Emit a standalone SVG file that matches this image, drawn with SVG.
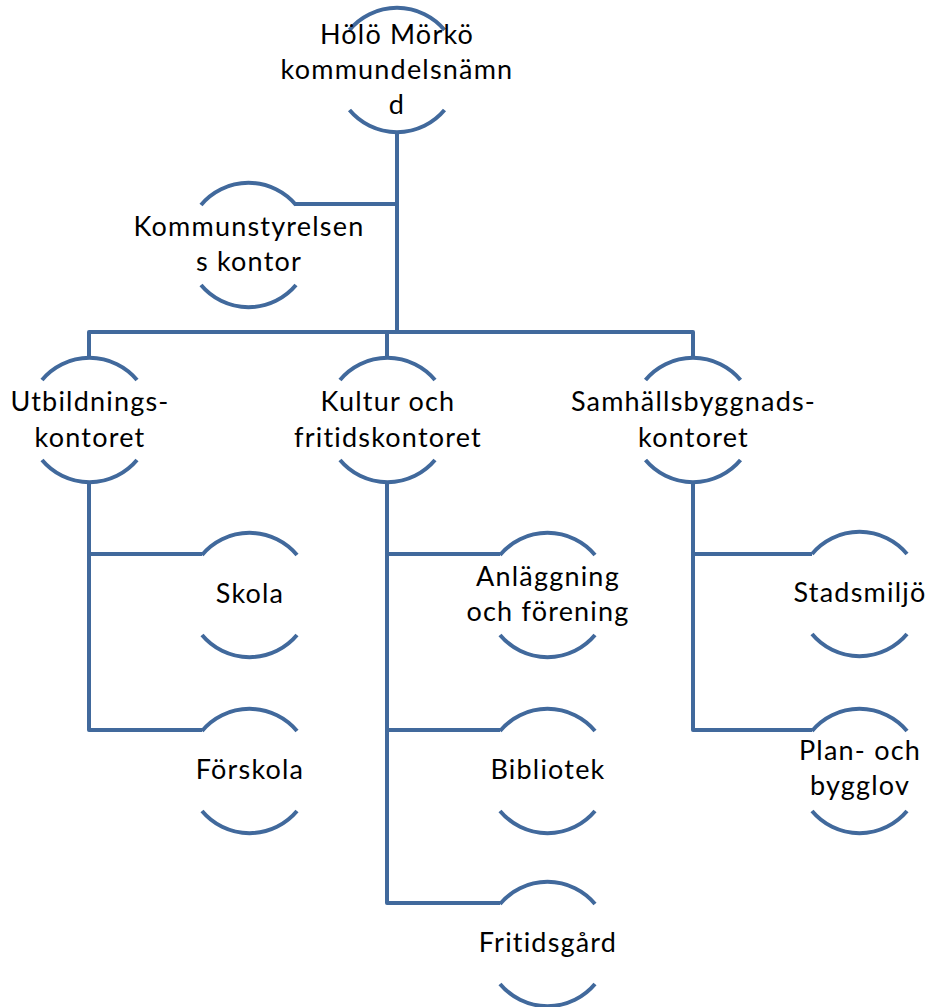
<svg xmlns="http://www.w3.org/2000/svg" width="932" height="1007" viewBox="0 0 932 1007">
<defs>
<style>
.arc{fill:none;stroke:#41699C;stroke-width:4}
.con{fill:none;stroke:#41699C;stroke-width:4;stroke-linejoin:round}
text{font-family:Lato,"Liberation Sans",sans-serif;font-size:27px;letter-spacing:1.2px;font-variant-ligatures:none;fill:#000;text-anchor:middle}
</style>
<g id="ring">
<path class="arc" d="M-47.5,-40 A62,62 0 0 1 47.5,-40"/>
<path class="arc" d="M-47.5,40 A62,62 0 0 0 47.5,40"/>
</g>
</defs>
<rect width="932" height="1007" fill="#fff"/>
<g id="connectors">
<path class="con" d="M397,132 V332 M397,204 H295"/>
<path class="con" d="M89,357 V332 H693 V357 M387,332 V357"/>
<path class="con" d="M89,482 V730 H202 M89,554 H202"/>
<path class="con" d="M387,482 V903 H500 M387,554 H500 M387,730 H500"/>
<path class="con" d="M693,482 V730 H812 M693,554 H812"/>
</g>
<g id="n-root"><use href="#ring" x="397" y="70"/><text x="397" y="44">Hölö Mörkö</text><text x="397" y="79">kommundelsnämn</text><text x="397" y="114">d</text></g>
<g id="n-ks"><use href="#ring" x="248.5" y="245"/><text x="249" y="236">Kommunstyrelsen</text><text x="249" y="271">s kontor</text></g>
<g id="n-utb"><use href="#ring" x="89.5" y="420"/><text x="90" y="411">Utbildnings-</text><text x="90" y="447">kontoret</text></g>
<g id="n-kult"><use href="#ring" x="387.5" y="420"/><text x="388" y="411">Kultur och</text><text x="388" y="447">fritidskontoret</text></g>
<g id="n-samh"><use href="#ring" x="693" y="420"/><text x="693.5" y="411">Samhällsbyggnads-</text><text x="693.5" y="447">kontoret</text></g>
<g id="n-skola"><use href="#ring" x="249.5" y="595"/><text x="250" y="603">Skola</text></g>
<g id="n-forskola"><use href="#ring" x="249.5" y="771"/><text x="250" y="779">Förskola</text></g>
<g id="n-anl"><use href="#ring" x="547.5" y="595"/><text x="548" y="586">Anläggning</text><text x="548" y="621">och förening</text></g>
<g id="n-bibl"><use href="#ring" x="547.5" y="771"/><text x="548" y="779">Bibliotek</text></g>
<g id="n-frit"><use href="#ring" x="547.5" y="944"/><text x="548" y="952">Fritidsgård</text></g>
<g id="n-stad"><use href="#ring" x="859.5" y="594"/><text x="860" y="602">Stadsmiljö</text></g>
<g id="n-plan"><use href="#ring" x="859.5" y="771"/><text x="860" y="760">Plan- och</text><text x="860" y="795">bygglov</text></g>
</svg>
